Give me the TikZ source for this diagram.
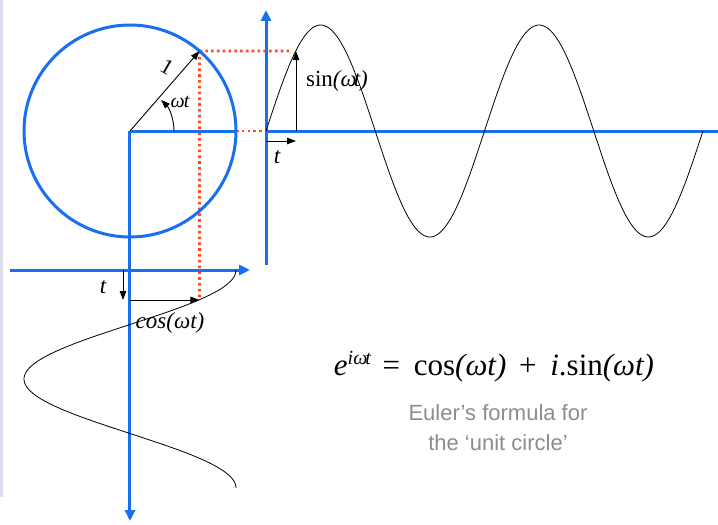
\documentclass[tikz,border=0pt]{standalone}
\usepackage{fontspec}
\setmainfont{Liberation Serif}
\newfontfamily\notefont{Liberation Sans}
\usetikzlibrary{arrows.meta}
\definecolor{axisblue}{HTML}{1A6EF0}
\definecolor{hintred}{HTML}{FF4A1C}
\definecolor{notegray}{HTML}{8C8C8C}
\definecolor{stripgray}{HTML}{DCDFEC}
\newcommand{\fsz}[1]{\fontsize{#1}{#1}\selectfont}

\begin{document}
\begin{tikzpicture}[x=1pt, y=1pt,
  axis/.style={axisblue, line width=3pt},
  axisarrow/.style={axis, -{Triangle[length=11pt, width=10pt]}},
  hint/.style={hintred, line width=2.6pt, dash pattern=on 2.6pt off 3.2pt},
  wave/.style={black, line width=0.8pt},
  vec/.style={black, line width=0.9pt, -{Triangle[length=9pt, width=6.5pt]}},
  lbl/.style={inner sep=0pt, font=\fsz{23}}]
  \useasboundingbox (-130,-394) rectangle (588,131);

  % --- slide edge ---
  \fill[stripgray] (-130,131) rectangle (-127,-366);

  % --- key points ---
  \coordinate (O)    at (0,0);
  \coordinate (P)    at (49:106);
  \coordinate (E)    at (106,0);
  \coordinate (B)    at (0,-106);
  \coordinate (Pend) at (159,80);
  \coordinate (Eend) at (142,0);
  \coordinate (Bend) at (0,-139);
  \coordinate (Pcos) at (69.5,-169);
  \coordinate (Ccos) at (0,-169);
  \coordinate (Ssin) at (166,0);
  \coordinate (Psin) at (166,80);

  % --- projections (red dotted) ---
  \draw[hint] (P) -- (Pend);
  \draw[hint] (E) -- (Eend);
  \draw[hint] (B) -- (Bend);
  \draw[hint] (P) -- (Pcos);

  % --- unit circle ---
  \draw[axis] (O) circle[radius=106];
  \draw[axis] (O) -- (E);
  \draw[axisarrow] (O) -- (0,-390);

  % --- radius and angle ---
  \draw[vec] (O) -- (P);
  \draw[vec] (44,0) arc[start angle=0, end angle=45, radius=44];
  \node[lbl, font=\fsz{22}, rotate=-30] (one) at (37,64) {1};
  \node[lbl, font=\fsz{20}\itshape] (angle) at (50,29) {ω\kern-1pt t};

  % --- sine axes and wave ---
  \draw[axisarrow] (136,-134) -- (136,121);
  \draw[axis] (136,0) -- (588,0);
  \draw[wave] plot[domain=0:720, samples=200, smooth] ({136+0.60694*\x},{106*sin(\x)});
  \draw[vec] (Ssin) -- (Psin);
  \node[lbl] (sinlbl) at (207,50) {sin{\itshape(ω\kern-3pt t)}};
  \draw[vec] (136,-10) -- (166,-10);
  \node[lbl, font=\fsz{23}\itshape] (tsin) at (147,-26) {t};

  % --- cosine axes and wave ---
  \draw[axisarrow] (-120,-139) -- (120,-139);
  \draw[wave] plot[domain=0:360, samples=150, smooth] ({106*cos(\x)},{-139-0.60556*\x});
  \draw[vec] (Ccos) -- (Pcos);
  \node[lbl, font=\fsz{23}\itshape] (coslbl) at (40,-192) {cos(ωt)};
  \draw[vec] (-7,-139) -- (-7,-169);
  \node[lbl, font=\fsz{23}\itshape] (tcos) at (-27,-156) {t};

  % --- formula ---
  \node[lbl, font=\fsz{31}] (euler) at (364,-236)
    {{\itshape e}\raisebox{11pt}{\fsz{20}\itshape iω\kern-2pt t}\hspace{4pt} =\hspace{6pt} cos{\itshape(ωt)}\hspace{5pt} +\hspace{6pt} {\itshape i}.sin{\itshape(ωt)}};
  \node[notegray, align=center, inner sep=0pt, font=\notefont\fontsize{22}{30}\selectfont]
    (note) at (368,-297) {Euler’s formula for\\the ‘unit circle’};
\end{tikzpicture}
\end{document}
